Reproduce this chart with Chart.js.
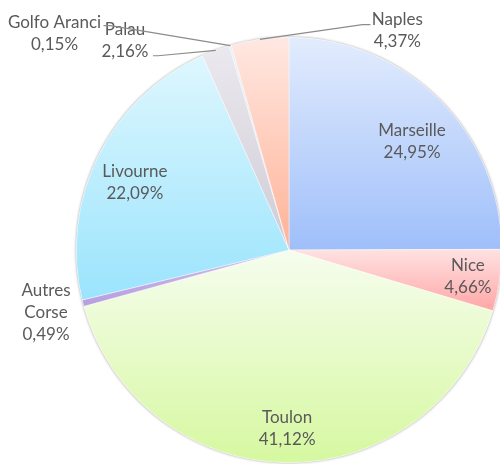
<!DOCTYPE html>
<html>
<head>
<meta charset="utf-8">
<script src="https://cdn.jsdelivr.net/npm/chart.js@4"></script>
<style>
  html, body { margin: 0; padding: 0; background: #fff; overflow: hidden; width: 500px; height: 464px; }
  canvas { display: block; }
</style>
</head>
<body>
<canvas id="portChart" width="504" height="464"></canvas>
<script>
// ports and their share (%)
const ports = ["Marseille", "Nice", "Toulon", "Autres Corse", "Livourne", "Palau", "Golfo Aranci", "Naples"];
const shares = [24.95, 4.66, 41.12, 0.49, 22.09, 2.16, 0.15, 4.37];
const shareText = ["24,95%", "4,66%", "41,12%", "0,49%", "22,09%", "2,16%", "0,15%", "4,37%"];

// gradient colours, top -> bottom of each slice
const topColors = ["#e2ecfd", "#ffe2e2", "#f6fdee", "#cdbbec", "#def7fe", "#ebe9ef", "#e4f0f8", "#ffe8e2"];
const bottomColors = ["#9fbffa", "#ffa6a6", "#d6f8a0", "#b79ee0", "#9be4fd", "#cfcbd6", "#c8dcea", "#ffb296"];

// label placement: angle (deg from top, clockwise) and radius factor
const labelSpots = [
  { a: 48.7, r: 0.77 },
  { a: 98.3, r: 0.85 },
  { a: 180.6, r: 0.84 },
  { a: 255.5, r: 1.18, lines: ["Autres", "Corse"] },
  { a: 293.5, r: 0.79 },
  { a: 321.9, r: 1.25, lead: [28, 15, 33] },
  { a: 312.7, r: 1.5, lead: [49, -8, 56] },
  { a: 26.3, r: 1.15, lead: [-27, -6, -35] },
];

function sliceGradient(ctx, el, i) {
  const pts = [[el.x, el.y]];
  const s = el.startAngle, e = el.endAngle, R = el.outerRadius;
  pts.push([el.x + R * Math.cos(s), el.y + R * Math.sin(s)]);
  pts.push([el.x + R * Math.cos(e), el.y + R * Math.sin(e)]);
  [-Math.PI / 2, Math.PI / 2, 3 * Math.PI / 2].forEach(function (t) {
    if (t > s && t < e) pts.push([el.x + R * Math.cos(t), el.y + R * Math.sin(t)]);
  });
  let y0 = Infinity, y1 = -Infinity;
  pts.forEach(function (p) { y0 = Math.min(y0, p[1]); y1 = Math.max(y1, p[1]); });
  const g = ctx.createLinearGradient(0, y0, 0, y1 + 0.01);
  g.addColorStop(0, topColors[i]);
  g.addColorStop(1, bottomColors[i]);
  return g;
}

const pieDecor = {
  id: "pieDecor",
  beforeDatasetsDraw(chart) {
    const ctx = chart.ctx;
    const meta = chart.getDatasetMeta(0);
    const first = meta.data[0];
    ctx.save();
    ctx.shadowColor = "rgba(0,0,0,0.45)";
    ctx.shadowBlur = 3;
    ctx.fillStyle = "#ffffff";
    ctx.beginPath();
    ctx.arc(first.x, first.y, first.outerRadius, 0, Math.PI * 2);
    ctx.fill();
    ctx.restore();
    meta.data.forEach(function (el, i) {
      el.options.backgroundColor = sliceGradient(ctx, el, i);
    });
  },
  afterDatasetsDraw(chart) {
    const ctx = chart.ctx;
    const meta = chart.getDatasetMeta(0);
    const cx = meta.data[0].x, cy = meta.data[0].y, R = meta.data[0].outerRadius;
    ctx.save();
    ctx.font = "17px Lato";
    ctx.fillStyle = "#5a5a5a";
    ctx.textAlign = "center";
    ctx.textBaseline = "middle";
    const lh = 22;
    labelSpots.forEach(function (sp, i) {
      const rad = sp.a * Math.PI / 180;
      const x = cx + sp.r * R * Math.sin(rad);
      const y = cy - sp.r * R * Math.cos(rad);
      const lines = (sp.lines || [ports[i]]).concat([shareText[i]]);
      const top = y - (lines.length - 1) * lh / 2;
      lines.forEach(function (t, k) { ctx.fillText(t, x, top + k * lh); });
    });
    // leader lines
    ctx.strokeStyle = "#8c8c8c";
    ctx.lineWidth = 1.2;
    labelSpots.forEach(function (sp, i) {
      if (!sp.lead) return;
      const el = meta.data[i];
      const rad = sp.a * Math.PI / 180;
      const x = cx + sp.r * R * Math.sin(rad);
      const y = cy - sp.r * R * Math.cos(rad);
      const mid = (el.startAngle + el.endAngle) / 2;
      ctx.beginPath();
      ctx.moveTo(x + sp.lead[0], y + sp.lead[1]);
      ctx.lineTo(x + sp.lead[2], y + sp.lead[1]);
      ctx.lineTo(cx + R * Math.cos(mid), cy + R * Math.sin(mid));
      ctx.stroke();
    });
    ctx.restore();
  }
};

new Chart(document.getElementById("portChart").getContext("2d"), {
  type: "pie",
  data: {
    labels: ports,
    datasets: [
      {
        data: shares,
        backgroundColor: topColors,
        borderColor: "rgba(255,255,255,0.7)",
        borderWidth: 0.6,
      },
    ],
  },
  options: {
    responsive: false,
    animation: false,
    layout: { padding: { left: 76, right: 2, top: 37, bottom: 1 } },
    plugins: {
      legend: { display: false },
      tooltip: { enabled: false },
    },
  },
  plugins: [pieDecor],
});
</script>
</body>
</html>
